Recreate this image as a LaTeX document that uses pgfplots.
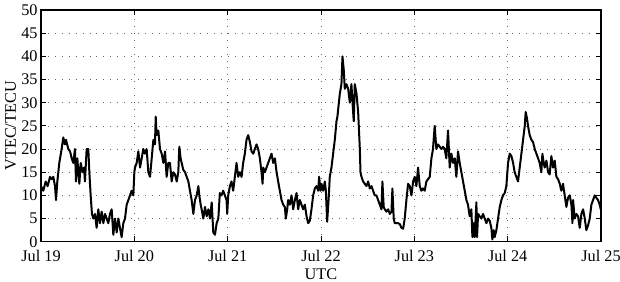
\documentclass[border=0pt]{standalone}
\usepackage{pgfplots}
\pgfplotsset{compat=1.18}
\usepackage{fontspec}
\setmainfont{Liberation Serif}
\begin{document}
\begin{tikzpicture}
\begin{axis}[
  scale only axis, width=420pt, height=173.8pt,
  xmin=0, xmax=6, ymin=0, ymax=50,
  xtick={0,1,2,3,4,5,6},
  xticklabels={Jul 19,Jul 20,Jul 21,Jul 22,Jul 23,Jul 24,Jul 25},
  ytick={0,5,...,50},
  tick align=inside, tick pos=both,
  major tick length=4pt,
  grid=major,
  major grid style={dash pattern=on 0.7pt off 4.5pt, gray!80!black},
  axis line style={line width=0.8pt},
  tick style={line width=0.6pt, black},
  /pgf/number format/assume math mode=true,
  tick label style={font=\fontsize{12.2}{14}\selectfont},
  label style={font=\fontsize{12.2}{14}\selectfont},
  xlabel={UTC}, ylabel={VTEC/TECU},
  xticklabel style={yshift=-3pt},
  xlabel style={yshift=2pt},
  ylabel style={yshift=-3pt},
  yticklabel style={xshift=1pt},
  clip=true,
]
\coordinate (SW) at (rel axis cs:0,0);
\coordinate (NE) at (rel axis cs:1,1);
\addplot[black, line width=1.5pt, line join=round] coordinates {
(0.000,12) (0.025,11) (0.050,13) (0.071,12) (0.096,14) (0.114,13.5) (0.132,14) (0.150,12) (0.161,9) (0.175,13)
(0.196,17) (0.221,20) (0.239,22.5) (0.257,21) (0.268,22) (0.293,20) (0.311,19.5) (0.329,18) (0.346,17) (0.364,20)
(0.375,13) (0.389,18) (0.411,12.5) (0.425,17) (0.446,15) (0.461,16) (0.471,13) (0.489,20) (0.507,20) (0.518,15)
(0.532,10) (0.546,6) (0.561,5) (0.579,6) (0.596,3) (0.614,7) (0.632,4) (0.650,6.5) (0.668,4) (0.686,6)
(0.704,5) (0.721,4) (0.739,6) (0.757,7) (0.775,1.5) (0.793,5) (0.811,2) (0.829,5) (0.846,3) (0.864,1)
(0.882,4) (0.900,5) (0.918,8) (0.936,9) (0.954,10) (0.971,11) (0.989,10) (1.000,15) (1.007,16) (1.025,17)
(1.043,19.5) (1.061,16) (1.079,18) (1.096,20) (1.114,19) (1.132,20) (1.150,15) (1.168,14) (1.186,18) (1.204,22)
(1.221,21) (1.229,27) (1.239,23) (1.257,24) (1.275,20) (1.293,19) (1.311,17) (1.329,19.5) (1.346,14) (1.364,17)
(1.382,17) (1.400,13) (1.418,15) (1.436,14.5) (1.454,13) (1.471,15) (1.482,20.5) (1.496,18) (1.507,17) (1.525,15.5)
(1.543,15) (1.561,14) (1.579,13) (1.596,11) (1.614,9) (1.632,6) (1.650,9) (1.668,10) (1.686,12) (1.696,10)
(1.711,8) (1.721,7) (1.739,5) (1.757,7.5) (1.775,5.5) (1.793,7) (1.811,5) (1.829,8.5) (1.846,2) (1.864,1.5)
(1.882,4) (1.900,5) (1.916,10.5) (1.934,10) (1.952,11) (1.970,10) (1.988,9) (1.995,6) (2.006,10) (2.024,12)
(2.041,13) (2.059,11) (2.077,14) (2.095,17) (2.113,14) (2.131,15) (2.149,14) (2.166,17) (2.184,19) (2.202,22)
(2.220,23) (2.238,21.5) (2.256,19.5) (2.274,19) (2.291,20) (2.309,21) (2.327,20) (2.345,18) (2.363,15) (2.374,12.5)
(2.381,16) (2.399,15) (2.416,16) (2.434,17) (2.452,18) (2.470,19) (2.488,17) (2.506,18) (2.524,15) (2.541,13)
(2.559,11) (2.577,9) (2.595,8) (2.613,7.5) (2.623,5) (2.638,7) (2.648,9) (2.666,8) (2.684,10) (2.702,7)
(2.720,9) (2.738,10.5) (2.755,7) (2.773,9) (2.791,8) (2.809,7) (2.827,8) (2.845,5.5) (2.863,4) (2.880,4.5)
(2.898,7) (2.916,10) (2.934,11.5) (2.952,12) (2.970,11) (2.980,14) (2.995,11) (3.005,12.5) (3.023,11) (3.041,13)
(3.052,11) (3.066,4.3) (3.084,10) (3.094,14) (3.112,16) (3.130,19) (3.148,22) (3.166,26) (3.176,27) (3.194,30.5)
(3.202,32) (3.219,34) (3.230,40) (3.244,37) (3.255,33) (3.273,34) (3.291,33) (3.309,30) (3.326,34) (3.344,28)
(3.351,26) (3.362,34) (3.380,32) (3.398,28) (3.416,20) (3.423,15) (3.434,14) (3.451,13) (3.469,12.5) (3.487,12)
(3.505,13) (3.523,11.5) (3.541,12) (3.558,11) (3.576,10) (3.594,10) (3.612,9) (3.630,8) (3.648,7) (3.658,13)
(3.672,7.5) (3.683,7) (3.701,6.5) (3.719,7) (3.737,6) (3.755,6.5) (3.765,11.5) (3.779,5) (3.790,4) (3.808,4)
(3.826,4) (3.844,3.8) (3.862,3) (3.880,2.8) (3.897,5) (3.915,9) (3.933,12.5) (3.951,12) (3.969,10) (3.987,13)
(4.004,14) (4.022,12) (4.040,16) (4.058,12) (4.075,11) (4.093,11.5) (4.111,11) (4.129,13) (4.147,13.5) (4.165,14)
(4.183,18) (4.200,20) (4.218,25) (4.236,20) (4.254,21) (4.272,20.5) (4.290,20) (4.308,20.5) (4.325,20) (4.343,18)
(4.361,24) (4.379,16) (4.397,19) (4.415,17) (4.433,18) (4.450,14) (4.468,19.5) (4.486,17) (4.504,15) (4.522,13)
(4.540,11) (4.558,9) (4.575,8) (4.593,5.5) (4.611,7) (4.622,1) (4.636,4) (4.647,1) (4.665,8.5) (4.672,1)
(4.683,6) (4.700,5.5) (4.718,5) (4.736,6) (4.754,5) (4.772,4) (4.790,5) (4.808,4.5) (4.825,3) (4.836,0.5)
(4.850,2.5) (4.861,1) (4.879,2.5) (4.897,5) (4.915,7.5) (4.933,9) (4.950,10) (4.968,10.5) (4.986,12) (5.004,17)
(5.022,19) (5.040,18.5) (5.058,17) (5.075,15) (5.093,14) (5.111,13) (5.129,16) (5.147,19) (5.165,22) (5.183,25)
(5.193,28) (5.208,26.5) (5.218,25) (5.236,23) (5.254,22) (5.272,21.5) (5.290,20) (5.308,19) (5.326,18) (5.343,17)
(5.361,15) (5.372,19) (5.386,17) (5.397,16) (5.415,17.5) (5.433,15) (5.450,14.5) (5.468,18.5) (5.486,16) (5.504,17.5)
(5.522,14) (5.540,13.5) (5.558,12.5) (5.575,11) (5.593,12.5) (5.611,10) (5.629,7.5) (5.647,9.5) (5.665,10) (5.683,8)
(5.694,4) (5.701,9) (5.718,5) (5.736,6) (5.754,5.5) (5.772,3) (5.790,6) (5.808,7) (5.826,5) (5.843,2.5)
(5.861,3.5) (5.879,5) (5.897,8) (5.915,9) (5.933,10) (5.950,9.5) (5.968,9) (5.986,8) (5.997,7)
};
\end{axis}
\pgfresetboundingbox
\path ([shift={(-30.75pt,-29.5pt)}]SW) rectangle ([shift={(14.25pt,7.5pt)}]NE);
\end{tikzpicture}
\end{document}
